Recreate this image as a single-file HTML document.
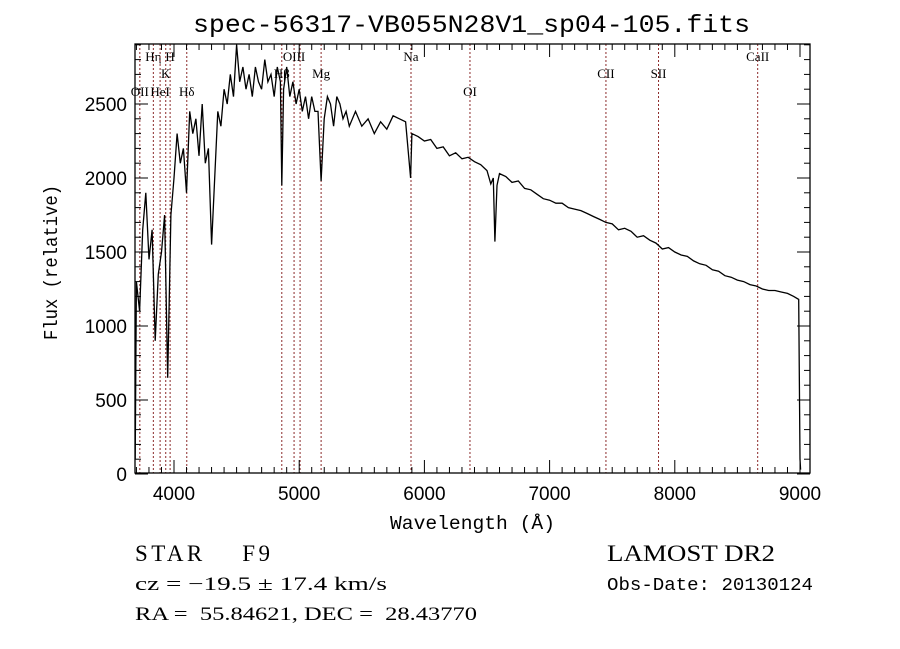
<!DOCTYPE html>
<html><head><meta charset="utf-8"><style>
body{margin:0;background:#fff;width:900px;height:649px;overflow:hidden}
svg{display:block}
.mono{font-family:"Liberation Mono",monospace}
.sans{font-family:"Liberation Sans",sans-serif}
.serif{font-family:"Liberation Serif",serif}
</style></head><body>
<svg id="chart" width="900" height="649" viewBox="0 0 900 649" xmlns="http://www.w3.org/2000/svg">
<text class="mono" x="193" y="32" font-size="25" textLength="557" lengthAdjust="spacingAndGlyphs">spec-56317-VB055N28V1_sp04-105.fits</text>
<g id="lines"></g>
<g id="axes"></g>
<polyline id="spec" fill="none" stroke="#000" stroke-width="1.3"/>
<text class="mono" x="390" y="529" font-size="19" textLength="165" lengthAdjust="spacingAndGlyphs">Wavelength (Å)</text>
<text class="mono" x="0" y="0" font-size="19" textLength="155" lengthAdjust="spacingAndGlyphs" transform="translate(57 340) rotate(-90)">Flux (relative)</text>
<text class="serif" x="135" y="561" font-size="23" textLength="135" lengthAdjust="spacing" xml:space="preserve">STAR    F9</text>
<text class="serif" x="607" y="561" font-size="23" textLength="168" lengthAdjust="spacingAndGlyphs">LAMOST DR2</text>
<text class="serif" x="135" y="590" font-size="19" textLength="252" lengthAdjust="spacingAndGlyphs">cz = −19.5 ± 17.4 km/s</text>
<text class="mono" x="607" y="590" font-size="18" textLength="206" lengthAdjust="spacingAndGlyphs">Obs-Date: 20130124</text>
<text class="serif" x="135" y="620" font-size="19" textLength="342" lengthAdjust="spacingAndGlyphs" xml:space="preserve">RA =  55.84621, DEC =  28.43770</text>
</svg>
<script>
const wave=[3690,3700,3725,3750,3775,3800,3825,3850,3875,3900,3925,3950,3975,4000,4025,4050,4075,4100,4125,4150,4175,4200,4225,4250,4275,4300,4325,4350,4375,4400,4425,4450,4475,4500,4525,4550,4575,4600,4625,4650,4675,4700,4725,4750,4775,4800,4825,4850,4861,4875,4900,4925,4950,4975,5000,5025,5050,5075,5100,5125,5150,5175,5200,5225,5250,5275,5300,5325,5350,5375,5400,5450,5500,5550,5600,5650,5700,5750,5800,5850,5890,5900,5950,6000,6050,6100,6150,6200,6250,6300,6350,6400,6450,6500,6530,6550,6563,6580,6600,6650,6700,6750,6800,6850,6900,6950,7000,7050,7100,7150,7200,7250,7300,7350,7400,7450,7500,7550,7600,7650,7700,7750,7800,7850,7900,7950,8000,8050,8100,8150,8200,8250,8300,8350,8400,8450,8500,8550,8600,8650,8700,8750,8800,8850,8900,8950,8990,9000,9005];
const flux=[100,1300,1100,1650,1900,1450,1650,900,1350,1500,1750,650,1750,2000,2300,2100,2200,1900,2450,2300,2400,2150,2500,2100,2200,1550,2000,2450,2350,2600,2500,2700,2550,2900,2650,2750,2600,2700,2550,2750,2650,2600,2800,2650,2700,2550,2750,2650,1950,2600,2750,2550,2650,2500,2600,2450,2550,2400,2550,2450,2450,1980,2400,2550,2500,2350,2550,2500,2400,2450,2350,2450,2350,2400,2300,2380,2330,2420,2400,2380,2000,2300,2280,2250,2260,2200,2210,2150,2170,2130,2140,2110,2090,2050,1960,2000,1570,1950,2030,2010,1970,1980,1930,1920,1890,1860,1850,1830,1830,1800,1790,1780,1760,1740,1720,1700,1690,1650,1660,1640,1600,1610,1580,1560,1520,1530,1500,1480,1470,1440,1420,1410,1380,1370,1340,1330,1310,1300,1280,1270,1250,1240,1240,1230,1220,1200,1180,100,30];
const xTicks=[4000,5000,6000,7000,8000,9000];
const yTicks=[0,500,1000,1500,2000,2500];
const lineWaves=[3727,3835,3889,3934,3969,4102,4861,4959,5007,5175,5893,6364,7450,7870,8662];
const lineLabels=["OII","Hη","HeI","K","H","Hδ","Hβ","OIII","","Mg","Na","OI","CII","SII","CaII"];
const lineRows=[3,1,3,2,1,3,2,1,0,2,1,3,2,2,1];

const L=135,R=810,T=44,B=473;
const X=w=>174+(w-4000)*0.1252;
const Y=f=>474-f*0.148;
const NS="http://www.w3.org/2000/svg";
function mk(tag,attrs,parent){const e=document.createElementNS(NS,tag);for(const k in attrs)e.setAttribute(k,attrs[k]);parent.appendChild(e);return e;}
const ax=document.getElementById('axes'), lg=document.getElementById('lines');
const frame=mk('rect',{x:L,y:T,width:R-L,height:B-T,fill:'none',stroke:'#000','stroke-width':1.3},ax);


for(let w=3700;w<=9000;w+=100){const x=X(w);if(x<L||x>R)continue;const big=w%1000===0;
 mk('line',{x1:x,x2:x,y1:B,y2:B-(big?13:6),stroke:'#000'},ax);
 mk('line',{x1:x,x2:x,y1:T,y2:T+(big?13:6),stroke:'#000'},ax);}
xTicks.forEach(w=>{const t=mk('text',{x:X(w),y:500,'font-size':19,'text-anchor':'middle',class:'sans'},ax);t.textContent=w;
 
 });
for(let f=0;f<=2900;f+=100){const y=Y(f);if(y<T)continue;const big=f%500===0;
 mk('line',{x1:L,x2:L+(big?13:6),y1:y,y2:y,stroke:'#000'},ax);
 mk('line',{x1:R,x2:R-(big?13:6),y1:y,y2:y,stroke:'#000'},ax);}
yTicks.forEach(f=>{const t=mk('text',{x:127,y:Y(f)+7,'font-size':19,'text-anchor':'end',class:'sans'},ax);t.textContent=f;
 
 });
const rowY=[0,61,78,96];
lineWaves.forEach((w,i)=>{const x=X(w);
 const ln=mk('line',{x1:x,x2:x,y1:T,y2:B,stroke:'#8b2a2a','stroke-width':1,'stroke-dasharray':'2,2'},lg);
 
 
 if(lineLabels[i]){const t=mk('text',{x:x,y:rowY[lineRows[i]],'font-size':13,'text-anchor':'middle',class:'serif'},lg);t.textContent=lineLabels[i];
 
 }});
document.getElementById('spec').setAttribute('points',wave.map((w,i)=>X(w).toFixed(1)+','+Math.max(T,Y(flux[i])).toFixed(1)).join(' '));
</script>
</body></html>
